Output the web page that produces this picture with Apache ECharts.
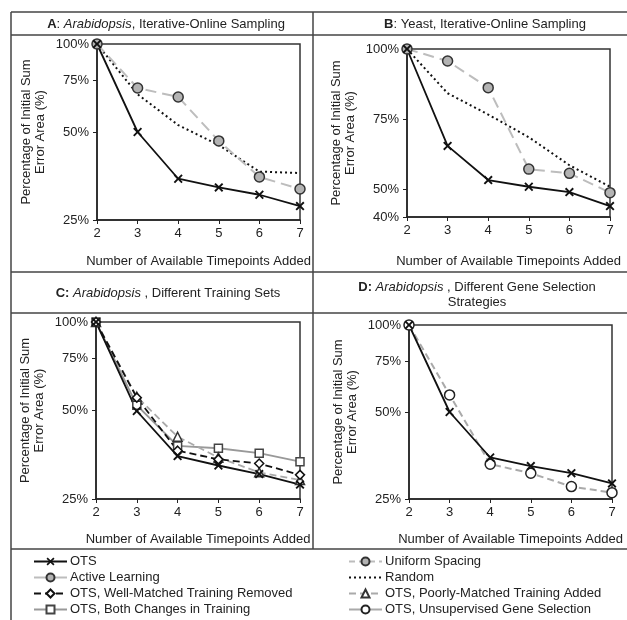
<!DOCTYPE html>
<html>
<head>
<meta charset="utf-8">
<script src="https://cdn.jsdelivr.net/npm/echarts@6/dist/echarts.min.js"></script>
<style>
html, body { margin: 0; padding: 0; background: #fff; }
#main { width: 627px; height: 620px; }
</style>
</head>
<body>
<div id="main"></div>
<script>
// timepoints on the x axis
const xCats = ['2', '3', '4', '5', '6', '7'];

// A: Arabidopsis, iterative-online sampling
const otsA = [100, 50, 34.6, 32.3, 30.5, 27.9];
const activeA = [100, 70.7, 65.9, 46.6, 35.1, 31.9];
const randomA = [100, 67.3, 52.8, 45.1, 36.6, 36.2];

// B: yeast, iterative-online sampling
const otsB = [100, 65.4, 53.2, 50.8, 48.9, 43.9];
const activeB = [100, 95.7, 86.2, 57.1, 55.6, 48.7];
const randomB = [100, 84.2, 76.6, 68.5, 58.5, 50.8];

// C: Arabidopsis, different training sets
const otsC = [100, 49.8, 35.0, 32.5, 30.4, 28.0];
const wellC = [100, 55.3, 36.5, 34.1, 33.0, 30.2];
const poorC = [100, 55.7, 40.7, 34.6, 30.8, 29.0];
const bothC = [100, 52.1, 37.9, 37.2, 35.8, 33.5];

// D: Arabidopsis, gene selection strategies
const otsD = [100, 50, 34.8, 32.5, 30.7, 28.3];
const unsupD = [100, 57.3, 33.0, 30.7, 27.6, 26.3];

// y tick labels
const yTicksLog = [25, 50, 75, 100];
const yTicksB = [40, 50, 75, 100];

const legendLeft = ['OTS', 'Active Learning', 'OTS, Well-Matched Training Removed', 'OTS, Both Changes in Training'];
const legendRight = ['Uniform Spacing', 'Random', 'OTS, Poorly-Matched Training Added', 'OTS, Unsupervised Gene Selection'];

const FONT = 'Liberation Sans, Arial, sans-serif';
const INK = '#222';
const xSym = 'path://M0,1.5L1.5,0L5,3.5L8.5,0L10,1.5L6.5,5L10,8.5L8.5,10L5,6.5L1.5,10L0,8.5L3.5,5Z';

const styles = {
  'OTS': { symbol: xSym, symbolSize: 9, lineStyle: { color: '#111', width: 1.8 }, itemStyle: { color: '#111' } },
  'Active Learning': { symbol: 'circle', symbolSize: 10, lineStyle: { color: '#bdbdbd', width: 2, type: [11, 6] }, itemStyle: { color: '#b3b3b3', borderColor: '#333', borderWidth: 1.5 } },
  'Uniform Spacing': { symbol: 'circle', symbolSize: 10, lineStyle: { color: '#bdbdbd', width: 2, type: [6, 4] }, itemStyle: { color: '#b3b3b3', borderColor: '#333', borderWidth: 1.5 } },
  'Random': { symbol: 'none', lineStyle: { color: '#111', width: 2, type: [2, 3] }, itemStyle: { color: 'rgba(0,0,0,0)' } },
  'OTS, Well-Matched Training Removed': { symbol: 'diamond', symbolSize: 9, lineStyle: { color: '#111', width: 1.8, type: [7, 4] }, itemStyle: { color: '#fff', borderColor: '#111', borderWidth: 1.5 } },
  'OTS, Poorly-Matched Training Added': { symbol: 'triangle', symbolSize: 9, lineStyle: { color: '#aaa', width: 1.8, type: [7, 4] }, itemStyle: { color: '#fff', borderColor: '#333', borderWidth: 1.5 } },
  'OTS, Both Changes in Training': { symbol: 'rect', symbolSize: 8, lineStyle: { color: '#999', width: 1.8 }, itemStyle: { color: '#fff', borderColor: '#444', borderWidth: 1.5 } },
  'OTS, Unsupervised Gene Selection': { symbol: 'circle', symbolSize: 10, lineStyle: { color: '#aaa', width: 2, type: [7, 4] }, itemStyle: { color: '#fff', borderColor: '#222', borderWidth: 1.5 } }
};

function line(name, idx, data) {
  return Object.assign({
    name: name,
    type: 'line',
    xAxisIndex: idx,
    yAxisIndex: idx,
    data: data,
    showAllSymbol: true
  }, styles[name]);
}

const grids = [
  { left: 97, top: 44, width: 203, height: 176 },
  { left: 407, top: 49, width: 203, height: 168 },
  { left: 96, top: 322, width: 204, height: 177 },
  { left: 409, top: 325, width: 203, height: 174 }
].map(g => Object.assign(g, { show: true, borderColor: '#333', borderWidth: 1.5 }));

const xNameGap = [35, 38, 34, 34];

function xAxis(i) {
  return {
    gridIndex: i,
    type: 'category',
    boundaryGap: false,
    data: xCats,
    axisLine: { lineStyle: { color: INK, width: 1.5 } },
    axisTick: { length: 4, lineStyle: { color: INK } },
    axisLabel: { color: INK, fontSize: 13, fontFamily: FONT, margin: 7 },
    name: 'Number of Available Timepoints Added',
    nameLocation: 'middle',
    nameGap: xNameGap[i],
    nameTextStyle: { color: INK, fontSize: 13, fontFamily: FONT }
  };
}

function yAxis(i) {
  const isB = i === 1;
  const ticks = isB ? yTicksB : yTicksLog;
  const ax = {
    gridIndex: i,
    min: isB ? 40 : 25,
    max: 100,
    axisLine: { show: true, lineStyle: { color: INK, width: 1.5 } },
    axisTick: { show: true, length: 4, lineStyle: { color: INK }, customValues: ticks },
    axisLabel: { color: INK, fontSize: 13, fontFamily: FONT, margin: 8, customValues: ticks,
      formatter: v => Math.round(v) + '%' },
    splitLine: { show: false },
    name: 'Percentage of Initial Sum\nError Area (%)',
    nameLocation: 'middle',
    nameGap: 50,
    nameRotate: 90,
    nameTextStyle: { color: INK, fontSize: 13, fontFamily: FONT, lineHeight: 14 }
  };
  if (isB) {
    ax.type = 'value';
  } else {
    ax.type = 'log';
    ax.logBase = 2;
  }
  return ax;
}

const rich = {
  b: { fontWeight: 'bold', fontSize: 13, fontFamily: FONT, fill: INK },
  i: { fontStyle: 'italic', fontSize: 13, fontFamily: FONT, fill: INK }
};

function title(x, y, text) {
  return {
    type: 'text', x: x, y: y, silent: true,
    style: { text: text, align: 'center', verticalAlign: 'middle', font: '13px ' + FONT, fill: INK, rich: rich, lineHeight: 15 }
  };
}

function rule(x1, y1, x2, y2) {
  return { type: 'line', silent: true, shape: { x1: x1, y1: y1, x2: x2, y2: y2 }, style: { stroke: '#444', lineWidth: 1.5 } };
}

const chart = echarts.init(document.getElementById('main'));
chart.setOption({
  animation: false,
  backgroundColor: '#fff',
  textStyle: { fontFamily: FONT },
  grid: grids,
  xAxis: [0, 1, 2, 3].map(xAxis),
  yAxis: [0, 1, 2, 3].map(yAxis),
  legend: [legendLeft, legendRight].map((names, k) => ({
    orient: 'vertical',
    left: k === 0 ? 33 : 348,
    top: 555,
    height: 64,
    padding: 0,
    itemWidth: 33,
    itemHeight: 10,
    itemGap: 3,
    selectedMode: false,
    textStyle: { color: INK, fontSize: 13, fontFamily: FONT, padding: [0, 0, 0, -2] },
    data: names.map(n => (n === 'Active Learning' || n === 'OTS, Unsupervised Gene Selection')
      ? { name: n, lineStyle: { type: 'solid' } } : { name: n })
  })),
  graphic: [
    rule(11, 12, 627, 12),
    rule(11, 12, 11, 620),
    rule(11, 35, 627, 35),
    rule(11, 272, 627, 272),
    rule(11, 313, 627, 313),
    rule(11, 549, 627, 549),
    rule(313, 12, 313, 549),
    title(166, 24, '{b|A}: {i|Arabidopsis}, Iterative-Online Sampling'),
    title(485, 24, '{b|B}: Yeast, Iterative-Online Sampling'),
    title(168, 293, '{b|C:} {i|Arabidopsis} , Different Training Sets'),
    title(477, 295, '{b|D:} {i|Arabidopsis} , Different Gene Selection\nStrategies')
  ],
  series: [
    line('Uniform Spacing', 0, []),
    line('Random', 0, randomA),
    line('Active Learning', 0, activeA),
    line('OTS', 0, otsA),
    line('Random', 1, randomB),
    line('Active Learning', 1, activeB),
    line('OTS', 1, otsB),
    line('OTS, Both Changes in Training', 2, bothC),
    line('OTS, Poorly-Matched Training Added', 2, poorC),
    line('OTS, Well-Matched Training Removed', 2, wellC),
    line('OTS', 2, otsC),
    line('OTS, Unsupervised Gene Selection', 3, unsupD),
    line('OTS', 3, otsD)
  ]
});
</script>
</body>
</html>
